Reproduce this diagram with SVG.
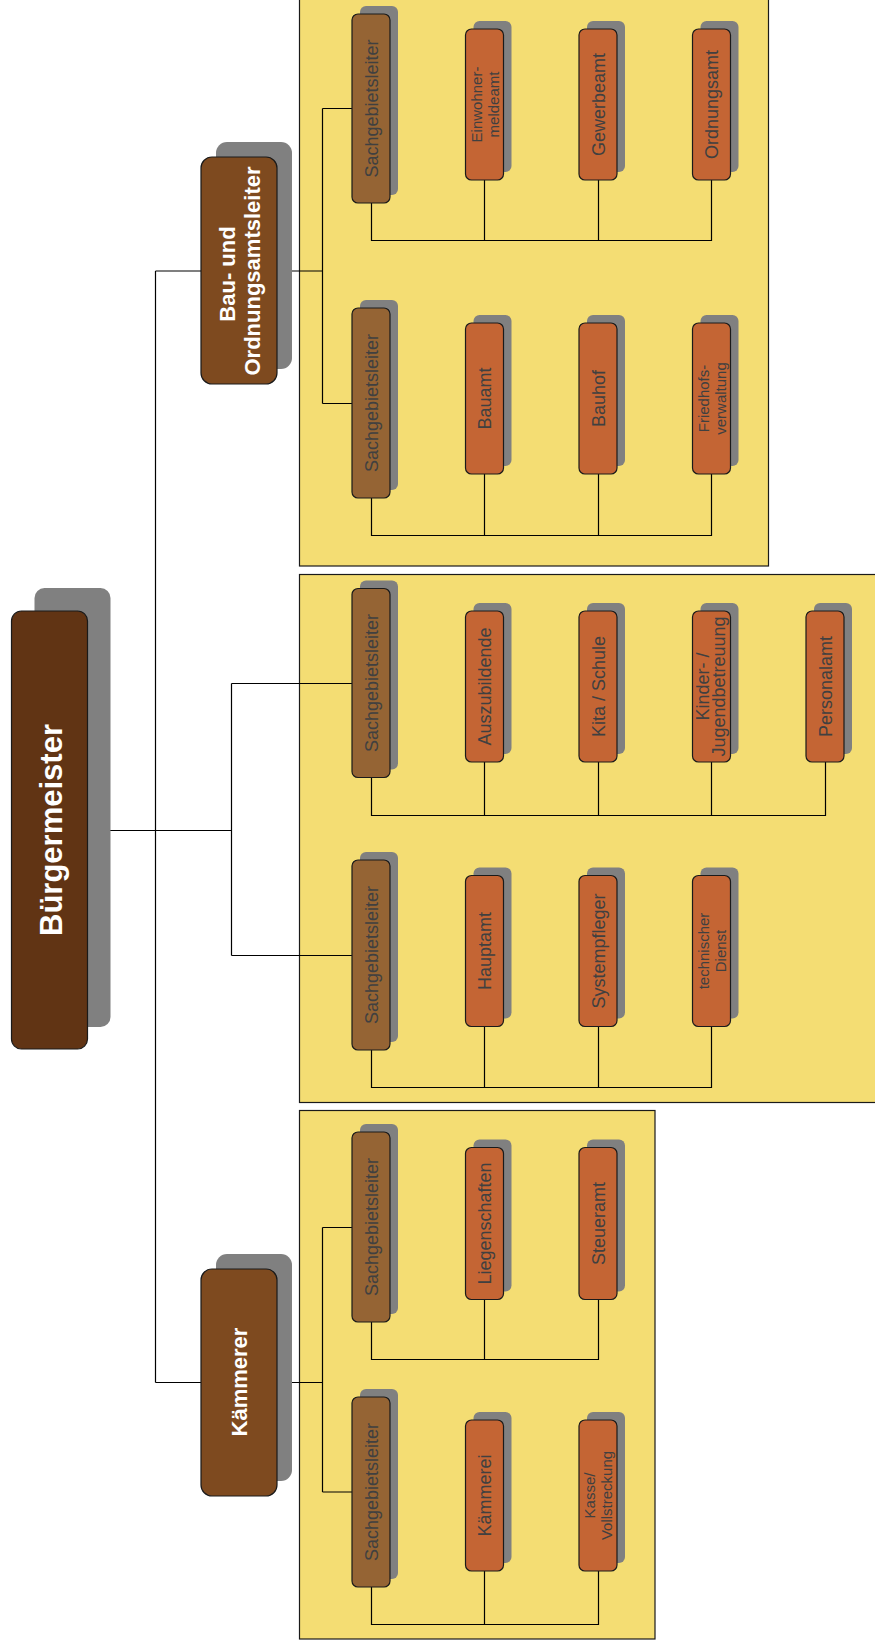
<svg xmlns="http://www.w3.org/2000/svg" width="875" height="1646" viewBox="0 0 875 1646">
<style>
.panel{fill:#f4dd73;stroke:#1a1a1a;stroke-width:1.2}
.sh{fill:#808080}
.bm{fill:#613414;stroke:#1a1a1a;stroke-width:1.2}
.l2{fill:#7e4a1f;stroke:#1a1a1a;stroke-width:1.2}
.sgl{fill:#956434;stroke:#1a1a1a;stroke-width:1.2}
.leaf{fill:#c46534;stroke:#1a1a1a;stroke-width:1.2}
.wt{font-family:"Liberation Sans",Arial,sans-serif;font-weight:bold;fill:#ffffff;text-anchor:middle}
.t{font-family:"Liberation Sans",Arial,sans-serif;fill:#404040;text-anchor:middle;font-size:18px}
.s{font-size:15px}
.c{fill:none;stroke:#000;stroke-width:1.2}
</style>
<g id="panels">
<rect class="panel" x="299.5" y="-2" width="469" height="568"/>
<rect class="panel" x="299.5" y="574.5" width="580" height="528"/>
<rect class="panel" x="299.5" y="1110.5" width="355.5" height="528.5"/>
</g>
<g id="connectors" class="c">
<path d="M88 830.5 H231.5 M155.5 271 V1382.5 M155.5 271 H201 M277 271 H322.5 M322.5 108.5 V403.5 M322.5 108.5 H352 M322.5 403.5 H352"/>
<path d="M231.5 683.5 V955.5 M231.5 683.5 H352 M231.5 955.5 H352"/>
<path d="M155.5 1382.5 H201 M277 1382.5 H322.5 M322.5 1227.5 V1492 M322.5 1227.5 H352 M322.5 1492 H352"/>
<path d="M371.5 203 V240.5 H711.5 V180 M484.5 180 V240.5 M598.5 180 V240.5"/>
<path d="M371.5 498 V535.5 H711.5 V474 M484.5 474 V535.5 M598.5 474 V535.5"/>
<path d="M371.5 777.5 V815.5 H825.5 V762 M484.5 762 V815.5 M598.5 762 V815.5 M711.5 762 V815.5"/>
<path d="M371.5 1050 V1087.5 H711.5 V1026.5 M484.5 1026.5 V1087.5 M598.5 1026.5 V1087.5"/>
<path d="M371.5 1322 V1359.5 H598.5 V1299.5 M484.5 1299.5 V1359.5"/>
<path d="M371.5 1587 V1624.5 H598.5 V1571 M484.5 1571 V1624.5"/>
</g>
<g id="buergermeister">
<rect class="sh" x="34.5" y="588" width="76" height="439" rx="10"/>
<rect class="bm" x="11.5" y="611" width="76" height="438" rx="10"/>
<text class="wt" font-size="31" transform="translate(49.5,830) rotate(-90)" y="12">Bürgermeister</text>
</g>
<g id="bauamtsleiter">
<rect class="sh" x="216" y="142" width="76" height="227" rx="11"/>
<rect class="l2" x="201" y="157" width="76" height="227" rx="11"/>
<text class="wt" font-size="22" transform="translate(239,271) rotate(-90)"><tspan x="-3" y="-4">Bau- und</tspan><tspan x="0" y="21">Ordnungsamtsleiter</tspan></text>
</g>
<g id="kaemmerer">
<rect class="sh" x="216" y="1254" width="76" height="227" rx="11"/>
<rect class="l2" x="201" y="1269" width="76" height="227" rx="11"/>
<text class="wt" font-size="22" transform="translate(239,1382) rotate(-90)" y="8">Kämmerer</text>
</g>
<!-- Bau panel -->
<g id="sgl-bau-1"><rect class="sh" x="360" y="6" width="38" height="189" rx="6"/><rect class="sgl" x="352" y="14" width="38" height="189" rx="6"/><text class="t" transform="translate(371,108.5) rotate(-90)" y="6.5">Sachgebietsleiter</text></g>
<g id="einwohnermeldeamt"><rect class="sh" x="473.5" y="21" width="38" height="151" rx="6"/><rect class="leaf" x="465.5" y="29" width="38" height="151" rx="6"/><text class="t s" transform="translate(484.5,104.5) rotate(-90)"><tspan x="0" y="-3">Einwohner-</tspan><tspan x="0" y="14">meldeamt</tspan></text></g>
<g id="gewerbeamt"><rect class="sh" x="587" y="21" width="38" height="151" rx="6"/><rect class="leaf" x="579" y="29" width="38" height="151" rx="6"/><text class="t" transform="translate(598,104.5) rotate(-90)" y="6.5">Gewerbeamt</text></g>
<g id="ordnungsamt"><rect class="sh" x="700.5" y="21" width="38" height="151" rx="6"/><rect class="leaf" x="692.5" y="29" width="38" height="151" rx="6"/><text class="t" transform="translate(711.5,104.5) rotate(-90)" y="6.5">Ordnungsamt</text></g>
<g id="sgl-bau-2"><rect class="sh" x="360" y="300" width="38" height="190" rx="6"/><rect class="sgl" x="352" y="308" width="38" height="190" rx="6"/><text class="t" transform="translate(371,403) rotate(-90)" y="6.5">Sachgebietsleiter</text></g>
<g id="bauamt"><rect class="sh" x="473.5" y="315" width="38" height="151" rx="6"/><rect class="leaf" x="465.5" y="323" width="38" height="151" rx="6"/><text class="t" transform="translate(484.5,398.5) rotate(-90)" y="6.5">Bauamt</text></g>
<g id="bauhof"><rect class="sh" x="587" y="315" width="38" height="151" rx="6"/><rect class="leaf" x="579" y="323" width="38" height="151" rx="6"/><text class="t" transform="translate(598,398.5) rotate(-90)" y="6.5">Bauhof</text></g>
<g id="friedhofsverwaltung"><rect class="sh" x="700.5" y="315" width="38" height="151" rx="6"/><rect class="leaf" x="692.5" y="323" width="38" height="151" rx="6"/><text class="t s" transform="translate(711.5,398.5) rotate(-90)"><tspan x="0" y="-3">Friedhofs-</tspan><tspan x="0" y="14">verwaltung</tspan></text></g>
<!-- Haupt panel -->
<g id="sgl-haupt-1"><rect class="sh" x="360" y="580.5" width="38" height="189" rx="6"/><rect class="sgl" x="352" y="588.5" width="38" height="189" rx="6"/><text class="t" transform="translate(371,683) rotate(-90)" y="6.5">Sachgebietsleiter</text></g>
<g id="auszubildende"><rect class="sh" x="473.5" y="603" width="38" height="151" rx="6"/><rect class="leaf" x="465.5" y="611" width="38" height="151" rx="6"/><text class="t" transform="translate(484.5,686.5) rotate(-90)" y="6.5">Auszubildende</text></g>
<g id="kita-schule"><rect class="sh" x="587" y="603" width="38" height="151" rx="6"/><rect class="leaf" x="579" y="611" width="38" height="151" rx="6"/><text class="t" transform="translate(598,686.5) rotate(-90)" y="6.5">Kita / Schule</text></g>
<g id="kinder-jugendbetreuung"><rect class="sh" x="700.5" y="603" width="38" height="151" rx="6"/><rect class="leaf" x="692.5" y="611" width="38" height="151" rx="6"/><text class="t" font-size="14.5" transform="translate(711.5,686.5) rotate(-90)"><tspan x="0" y="-3">Kinder- /</tspan><tspan x="0" y="13.5">Jugendbetreuung</tspan></text></g>
<g id="personalamt"><rect class="sh" x="814" y="603" width="38" height="151" rx="6"/><rect class="leaf" x="806" y="611" width="38" height="151" rx="6"/><text class="t" transform="translate(825,686.5) rotate(-90)" y="6.5">Personalamt</text></g>
<g id="sgl-haupt-2"><rect class="sh" x="360" y="852" width="38" height="190" rx="6"/><rect class="sgl" x="352" y="860" width="38" height="190" rx="6"/><text class="t" transform="translate(371,955) rotate(-90)" y="6.5">Sachgebietsleiter</text></g>
<g id="hauptamt"><rect class="sh" x="473.5" y="867.5" width="38" height="151" rx="6"/><rect class="leaf" x="465.5" y="875.5" width="38" height="151" rx="6"/><text class="t" transform="translate(484.5,951) rotate(-90)" y="6.5">Hauptamt</text></g>
<g id="systempfleger"><rect class="sh" x="587" y="867.5" width="38" height="151" rx="6"/><rect class="leaf" x="579" y="875.5" width="38" height="151" rx="6"/><text class="t" transform="translate(598,951) rotate(-90)" y="6.5">Systempfleger</text></g>
<g id="technischer-dienst"><rect class="sh" x="700.5" y="867.5" width="38" height="151" rx="6"/><rect class="leaf" x="692.5" y="875.5" width="38" height="151" rx="6"/><text class="t s" transform="translate(711.5,951) rotate(-90)"><tspan x="0" y="-3">technischer</tspan><tspan x="0" y="14">Dienst</tspan></text></g>
<!-- Kaemmerer panel -->
<g id="sgl-kaem-1"><rect class="sh" x="360" y="1124" width="38" height="190" rx="6"/><rect class="sgl" x="352" y="1132" width="38" height="190" rx="6"/><text class="t" transform="translate(371,1227) rotate(-90)" y="6.5">Sachgebietsleiter</text></g>
<g id="liegenschaften"><rect class="sh" x="473.5" y="1139.5" width="38" height="152" rx="6"/><rect class="leaf" x="465.5" y="1147.5" width="38" height="152" rx="6"/><text class="t" transform="translate(484.5,1223.5) rotate(-90)" y="6.5">Liegenschaften</text></g>
<g id="steueramt"><rect class="sh" x="587" y="1139.5" width="38" height="152" rx="6"/><rect class="leaf" x="579" y="1147.5" width="38" height="152" rx="6"/><text class="t" transform="translate(598,1223.5) rotate(-90)" y="6.5">Steueramt</text></g>
<g id="sgl-kaem-2"><rect class="sh" x="360" y="1389" width="38" height="190" rx="6"/><rect class="sgl" x="352" y="1397" width="38" height="190" rx="6"/><text class="t" transform="translate(371,1492) rotate(-90)" y="6.5">Sachgebietsleiter</text></g>
<g id="kaemmerei"><rect class="sh" x="473.5" y="1412" width="38" height="151" rx="6"/><rect class="leaf" x="465.5" y="1420" width="38" height="151" rx="6"/><text class="t" transform="translate(484.5,1495.5) rotate(-90)" y="6.5">Kämmerei</text></g>
<g id="kasse-vollstreckung"><rect class="sh" x="587" y="1412" width="38" height="151" rx="6"/><rect class="leaf" x="579" y="1420" width="38" height="151" rx="6"/><text class="t s" transform="translate(598,1495.5) rotate(-90)"><tspan x="0" y="-3">Kasse/</tspan><tspan x="0" y="14">Vollstreckung</tspan></text></g>
</svg>
